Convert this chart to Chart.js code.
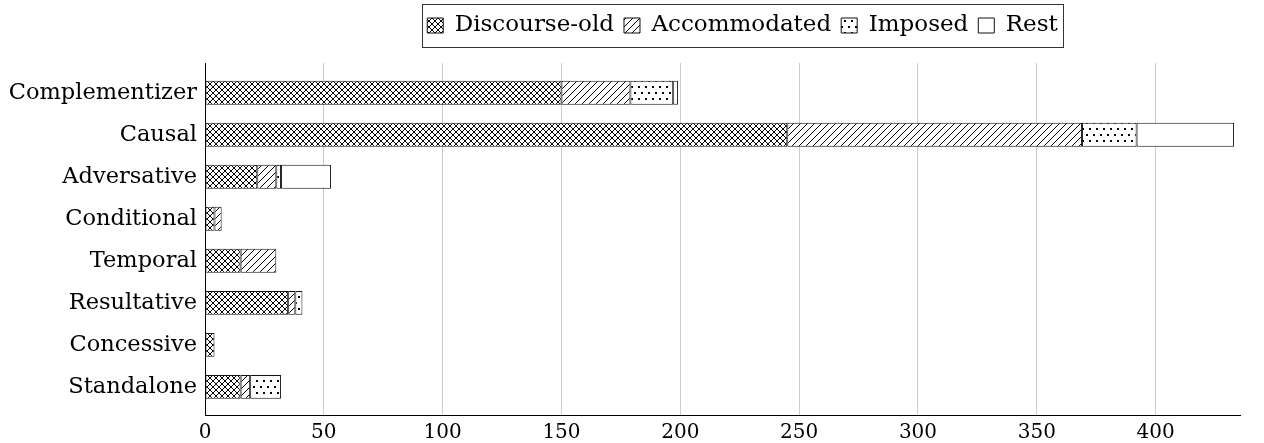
<!DOCTYPE html>
<html>
<head>
<meta charset="utf-8">
<script src="https://cdn.jsdelivr.net/npm/chart.js@4.4.1/dist/chart.umd.min.js"></script>
<style>
  html, body { margin: 0; padding: 0; background: #fff; }
  #wrap { width: 1264px; height: 443px; }
</style>
</head>
<body>
<div id="wrap"><canvas id="connChart" width="1264" height="443"></canvas></div>
<script>
// Categories, top to bottom
const categories = ['Complementizer', 'Causal', 'Adversative', 'Conditional', 'Temporal', 'Resultative', 'Concessive', 'Standalone'];

// Counts per category (stacked left to right)
const discourseOld = [150, 245, 22, 4, 15, 35, 4, 15];
const accommodated = [29, 124, 8, 3, 15, 3, 0, 4];
const imposed = [18, 23, 2, 0, 0, 3, 0, 13];
const rest = [2, 41, 21, 0, 0, 0, 0, 0];

const xTickStep = 50;
const xMax = 435.5;

// Hatch fills, like the pgf patterns
function makePattern(kind) {
  const c = document.createElement('canvas');
  const g = c.getContext('2d');
  if (kind === 'crosshatch') {
    c.width = 6; c.height = 6;
    g.fillStyle = '#fff'; g.fillRect(0, 0, 6, 6);
    g.strokeStyle = '#000'; g.lineWidth = 1;
    g.beginPath();
    g.moveTo(0, 0); g.lineTo(6, 6);
    g.moveTo(6, 0); g.lineTo(0, 6);
    g.stroke();
  } else if (kind === 'lines') {
    c.width = 7; c.height = 7;
    g.fillStyle = '#fff'; g.fillRect(0, 0, 7, 7);
    g.strokeStyle = '#000'; g.lineWidth = 1;
    g.beginPath();
    g.moveTo(0, 7); g.lineTo(7, 0);
    g.moveTo(-1, 1); g.lineTo(1, -1);
    g.moveTo(6, 8); g.lineTo(8, 6);
    g.stroke();
  } else if (kind === 'dots') {
    c.width = 7; c.height = 12;
    g.fillStyle = '#fff'; g.fillRect(0, 0, 7, 12);
    g.fillStyle = '#000';
    g.fillRect(1, 2, 2, 2);
    g.fillRect(4, 8, 2, 2);
  } else {
    c.width = 2; c.height = 2;
    g.fillStyle = '#fff'; g.fillRect(0, 0, 2, 2);
  }
  return g.createPattern(c, 'repeat');
}

function toPoints(values) {
  return values.map((v, i) => ({ x: v, y: i })).filter(p => p.x > 0);
}

function series(label, values, kind) {
  return {
    label: label,
    data: toPoints(values),
    backgroundColor: makePattern(kind),
    borderColor: '#111',
    borderWidth: 1,
    borderSkipped: false,
    categoryPercentage: 1,
    barPercentage: 0.57,
  };
}

Chart.defaults.font.family = "'DejaVu Serif', serif";
Chart.defaults.color = '#000';

// Leave room under the legend, nudge it right and draw a frame round it
const legendFrame = {
  id: 'legendFrame',
  beforeInit(chart) {
    const fit = chart.legend.fit;
    chart.legend.fit = function () {
      fit.call(this);
      this.height += 16;
    };
  },
  afterLayout(chart) {
    chart.legend.left += 20;
    chart.legend.right += 20;
  },
  afterDraw(chart) {
    const boxes = chart.legend.legendHitBoxes;
    if (!boxes || !boxes.length) return;
    const pad = chart.options.plugins.legend.labels.padding;
    const left = Math.min(...boxes.map(b => b.left)) - 5;
    const right = Math.max(...boxes.map(b => b.left + b.width)) + 5;
    const top = Math.min(...boxes.map(b => b.top)) - pad;
    const bottom = Math.max(...boxes.map(b => b.top + b.height)) + pad;
    const ctx = chart.ctx;
    ctx.save();
    ctx.strokeStyle = '#333';
    ctx.lineWidth = 1;
    ctx.strokeRect(Math.round(left) + 0.5, Math.round(top) + 0.5, Math.round(right - left), Math.round(bottom - top));
    ctx.restore();
  }
};

const ctx = document.getElementById('connChart').getContext('2d');
new Chart(ctx, {
  type: 'bar',
  data: {
    datasets: [
      series('Discourse-old', discourseOld, 'crosshatch'),
      series('Accommodated', accommodated, 'lines'),
      series('Imposed', imposed, 'dots'),
      series('Rest', rest, 'plain'),
    ]
  },
  options: {
    indexAxis: 'y',
    responsive: false,
    animation: false,
    devicePixelRatio: 1,
    layout: { padding: { top: 4, right: 24, left: 0, bottom: 0 } },
    plugins: {
      tooltip: { enabled: false },
      legend: {
        position: 'top',
        fullSize: false,
        labels: { font: { size: 23 }, color: '#000', boxWidth: 16, boxHeight: 15, padding: 10 }
      }
    },
    scales: {
      x: {
        type: 'linear',
        min: 0,
        max: xMax,
        stacked: true,
        afterFit: (s) => { s.height = 28; },
        ticks: { stepSize: xTickStep, includeBounds: false, font: { size: 20 }, color: '#000', padding: 6, maxRotation: 0 },
        grid: {
          color: (c) => (c.tick && c.tick.value === 0) ? 'rgba(0,0,0,0)' : '#cccccc',
          drawTicks: false,
          lineWidth: 1
        },
        border: { color: '#000', width: 1 }
      },
      y: {
        type: 'linear',
        reverse: true,
        offset: false,
        min: -0.71,
        max: 7.67,
        stacked: true,
        afterBuildTicks: (s) => { s.ticks = categories.map((c, i) => ({ value: i })); },
        afterFit: (s) => { s.width = 205; },
        ticks: { callback: (v) => categories[v], font: { size: 22.5 }, color: '#000', padding: 8, autoSkip: false },
        grid: { display: false, drawTicks: false },
        border: { color: '#000', width: 1 }
      }
    }
  },
  plugins: [legendFrame]
});
</script>
</body>
</html>
